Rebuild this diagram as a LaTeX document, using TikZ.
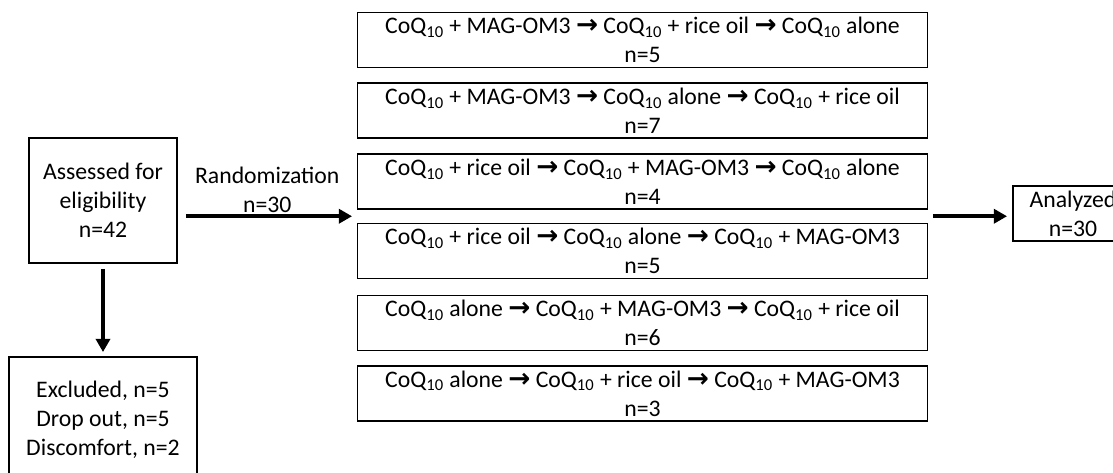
\documentclass[tikz,border=0pt]{standalone}
\usepackage{fontspec}
\setmainfont{Carlito}
\newfontfamily\arrowfont{DejaVu Sans}
\usetikzlibrary{arrows.meta,calc}
\newcommand{\CoQ}{CoQ\textsubscript{10}}
\newcommand{\thenarrow}{{\arrowfont\bfseries\fontsize{15}{16.5}\selectfont →}}
\begin{document}
\begin{tikzpicture}[
    font=\fontsize{13.5}{16.5}\selectfont,
    box/.style={draw, line width=1.1pt, align=center, inner sep=2pt},
    arm/.style={box, minimum width=11.4cm, minimum height=1.1cm},
    flow/.style={line width=2.3pt, -{Triangle[length=7.5pt, width=8pt]}}
]
    \useasboundingbox (0,0) rectangle (22.26,9.44);

    % Screening
    \node[box, minimum width=2.96cm, minimum height=2.5cm] (assessed) at (2.06,5.43) {Assessed for\\eligibility\\n=42};
    \node[box, minimum width=3.76cm, minimum height=2.5cm] (excluded) at (2.06,1.05) {Excluded, n=5\\Drop out, n=5\\Discomfort, n=2};

    % Treatment sequences
    \node[arm] (arm1) at (12.85,8.64) {\CoQ{} + MAG-OM3 \thenarrow{} \CoQ{} + rice oil \thenarrow{} \CoQ{} alone\\n=5};
    \node[arm] (arm2) at (12.85,7.23) {\CoQ{} + MAG-OM3 \thenarrow{} \CoQ{} alone \thenarrow{} \CoQ{} + rice oil\\n=7};
    \node[arm] (arm3) at (12.85,5.81) {\CoQ{} + rice oil \thenarrow{} \CoQ{} + MAG-OM3 \thenarrow{} \CoQ{} alone\\n=4};
    \node[arm] (arm4) at (12.85,4.42) {\CoQ{} + rice oil \thenarrow{} \CoQ{} alone \thenarrow{} \CoQ{} + MAG-OM3\\n=5};
    \node[arm] (arm5) at (12.85,2.98) {\CoQ{} alone \thenarrow{} \CoQ{} + MAG-OM3 \thenarrow{} \CoQ{} + rice oil\\n=6};
    \node[arm] (arm6) at (12.85,1.57) {\CoQ{} alone \thenarrow{} \CoQ{} + rice oil \thenarrow{} \CoQ{} + MAG-OM3\\n=3};

    % Analysis
    \node[box, minimum width=2.4cm, minimum height=1.1cm] (analyzed) at (21.46,5.17) {Analyzed\\n=30};

    % Connectors
    \coordinate (split) at ($(arm3.south west)!0.5!(arm4.north west)$);
    \draw[flow, shorten <=0.1cm, shorten >=0.08cm] (assessed) -- (excluded);
    \draw[flow, shorten <=0.16cm, shorten >=0.09cm] (assessed.east |- split) -- (split)
        node[midway, above, align=center, inner sep=1pt] {Randomization\\n=30};
    \draw[flow, shorten <=0.09cm, shorten >=0.1cm] (arm3.east |- split) -- (analyzed.west |- split);
\end{tikzpicture}
\end{document}
